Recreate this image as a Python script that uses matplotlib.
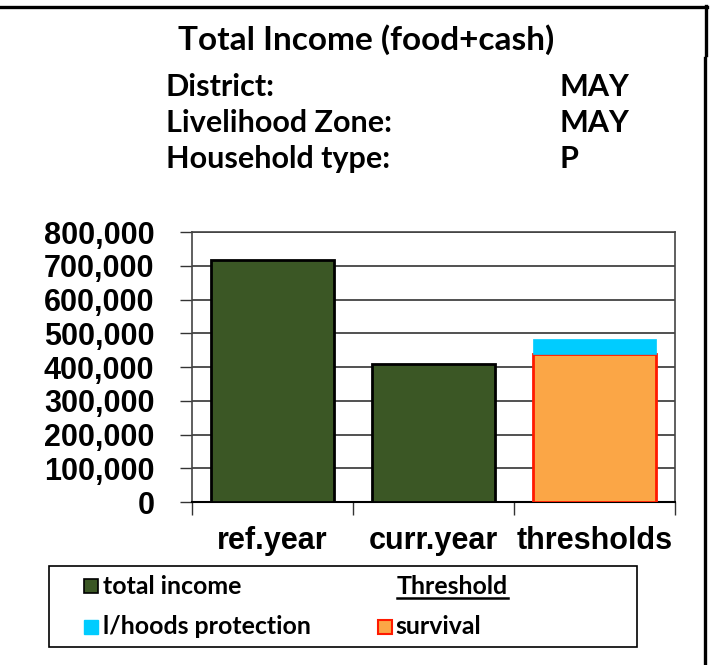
import matplotlib
matplotlib.use("Agg")
import matplotlib.pyplot as plt
from matplotlib import font_manager as fm
from matplotlib.patches import Rectangle
from matplotlib.lines import Line2D
from matplotlib.ticker import FuncFormatter, MultipleLocator

# ---- data ----
categories = ["ref.year", "curr.year", "thresholds"]
total_income = [716000, 410000, None]
survival = 438000
livelihoods_protection = 44000  # on top of survival (total ~482,000)
title = "Total Income (food+cash)"
info_labels = ["District:", "Livelihood Zone:", "Household type:"]
info_values = ["MAY", "MAY", "P"]
legend_labels = ["total income", "l/hoods protection", "Threshold", "survival"]

GREEN = "#3B5725"
CYAN = "#00CCFF"
ORANGE = "#FBA646"
RED = "#FF1A00"


def _w(x):
    if isinstance(x, str):
        return {"bold": 700, "heavy": 800, "black": 900, "semibold": 600,
                "demibold": 600, "extra bold": 800, "ultrabold": 800}.get(x.lower(), 400)
    return int(x)


def pick_bold(cands):
    for fam in cands:
        for f in fm.fontManager.ttflist:
            if f.name == fam and _w(f.weight) >= 700:
                return fam
    return "DejaVu Sans"


FONT = pick_bold(["Lato", "Noto Sans", "Open Sans", "Roboto", "DejaVu Sans"])

W, H = 715, 665
fig = plt.figure(figsize=(W / 100, H / 100), dpi=100)
fig.patch.set_facecolor("white")

L, R, T, B = 192, 675, 232, 502
ax = fig.add_axes([L / W, (H - B) / H, (R - L) / W, (B - T) / H])
bw = 0.77
for i, v in enumerate(total_income):
    if v is not None:
        ax.bar(i, v, width=bw, color=GREEN, edgecolor="black", linewidth=2, zorder=3)
ax.bar(2, survival, width=bw, color=ORANGE, edgecolor=RED, linewidth=2, zorder=3)
ax.bar(2, livelihoods_protection, bottom=survival, width=bw, color=CYAN,
       edgecolor=CYAN, linewidth=0.5, zorder=4)

ax.set_xlim(-0.5, 2.5)
ax.set_ylim(0, 800000)
ax.yaxis.set_major_locator(MultipleLocator(100000))
ax.yaxis.set_major_formatter(FuncFormatter(lambda v, p: f"{v:,.0f}"))
ax.yaxis.grid(True, color="#333333", linewidth=1.2, zorder=0)
ax.set_axisbelow(True)
ax.set_xticks([-0.5, 0.5, 1.5, 2.5])
ax.set_xticklabels([])
ax.tick_params(axis="x", length=9, width=1, color="#333333", direction="out")
ax.tick_params(axis="y", length=9, width=1, color="#333333", direction="out", pad=18)
for lbl in ax.get_yticklabels():
    lbl.set_fontfamily("Liberation Sans")
    lbl.set_fontweight("bold")
    lbl.set_fontsize(22)
for s in ["left", "top", "right"]:
    ax.spines[s].set_color("#444444")
    ax.spines[s].set_linewidth(1.2)
ax.spines["bottom"].set_color("black")
ax.spines["bottom"].set_linewidth(1.5)

for i, c in enumerate(categories):
    ax.text(i, -0.09, c, transform=ax.get_xaxis_transform(), ha="center", va="top",
            fontfamily="Liberation Sans", fontweight="bold", fontsize=22)

ov = fig.add_axes([0, 0, 1, 1], zorder=10)
ov.set_xlim(0, W)
ov.set_ylim(H, 0)
ov.axis("off")

hf = dict(fontfamily=FONT, fontweight="bold", color="black")
t_title = ov.text(178, 50, title, ha="left", va="baseline", fontsize=19, **hf)
base_y = [96, 132, 168]
info_texts = []
for lab, val, y in zip(info_labels, info_values, base_y):
    a = ov.text(166, y, lab, ha="left", va="baseline", fontsize=17, **hf)
    b = ov.text(560, y, val, ha="left", va="baseline", fontsize=17, **hf)
    info_texts += [a, b]

ov.add_line(Line2D([0, 707], [7, 7], color="black", linewidth=2.4))
ov.add_line(Line2D([706, 706], [6, 55], color="black", linewidth=2.4))
ov.add_line(Line2D([705, 705], [58, 665], color="black", linewidth=2.4))

ov.add_patch(Rectangle((49, 566), 588, 81, facecolor="white", edgecolor="black", linewidth=1.2))
lf = dict(fontfamily=FONT, fontweight="bold", color="black", fontsize=14)
ov.add_patch(Rectangle((84, 579), 14, 14, facecolor=GREEN, edgecolor="black", linewidth=1.2))
leg_texts = [ov.text(103, 586, legend_labels[0], ha="left", va="center", **lf)]
ov.add_patch(Rectangle((84, 620), 14, 14, facecolor=CYAN, edgecolor=CYAN, linewidth=1))
leg_texts.append(ov.text(103, 627, legend_labels[1], ha="left", va="center", **lf))
th = ov.text(397, 586, legend_labels[2], ha="left", va="center", **lf)
leg_texts.append(th)
ov.add_patch(Rectangle((378, 620), 14, 14, facecolor=ORANGE, edgecolor=RED, linewidth=1.5))
leg_texts.append(ov.text(395, 627, legend_labels[3], ha="left", va="center", **lf))

# fit font sizes of the Gill-Sans-like texts to the reference widths
fig.canvas.draw()
rend = fig.canvas.get_renderer()


def width(t):
    return t.get_window_extent(rend).width


s = 19 * 379 / width(t_title)
t_title.set_fontsize(min(max(s, 14), 24))
s = 17 * 227 / width(info_texts[2])
for t in info_texts:
    t.set_fontsize(min(max(s, 13), 22))
s = 14 * (85 + 113) / (width(leg_texts[3]) + width(th))
for t in leg_texts:
    t.set_fontsize(min(max(s, 10), 18))

fig.canvas.draw()
bb = th.get_window_extent(rend).transformed(ov.transData.inverted())
ov.add_line(Line2D([bb.x0, bb.x1], [598, 598], color="black", linewidth=1.8))

fig.savefig("out.png", dpi=100)
